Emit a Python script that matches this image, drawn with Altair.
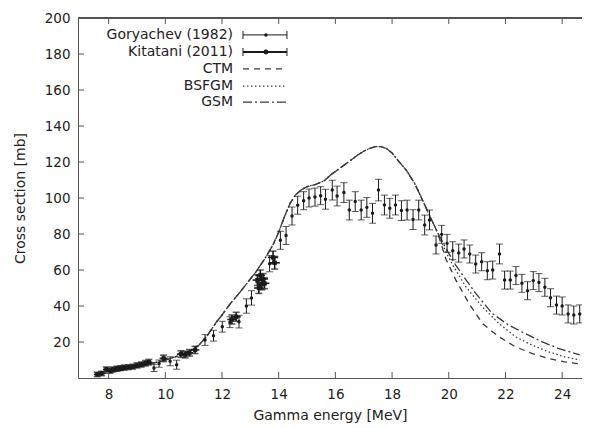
import altair as alt
import pandas as pd

# ---------------- data ----------------
# Goryachev (1982)
gor_e = [9.60, 9.78, 10.17, 10.40, 11.40, 11.70, 12.01, 12.28, 12.60, 12.86, 13.04, 13.68,
         14.06, 14.26, 14.47, 14.67, 14.88, 15.07, 15.28, 15.48, 15.65, 15.89, 16.06, 16.30,
         16.49, 16.70, 16.91, 17.11, 17.31, 17.52, 17.73, 17.92, 18.12, 18.33, 18.53, 18.74,
         18.94, 19.15, 19.32, 19.55, 19.75, 19.94, 20.14, 20.35, 20.54, 20.74, 20.95, 21.16,
         21.36, 21.55, 21.79, 21.97, 22.17, 22.37, 22.58, 22.78, 22.98, 23.18, 23.39, 23.59,
         23.80, 24.00, 24.21, 24.41, 24.62]
gor_s = [5.6, 8.0, 9.3, 7.4, 21.1, 23.5, 28.5, 31.0, 31.3, 40.0, 44.5, 63.5,
         76.5, 79.2, 90.0, 96.0, 98.5, 100.0, 100.5, 101.3, 99.3, 104.4, 101.1, 103.0,
         93.3, 98.0, 93.3, 94.8, 91.5, 104.4, 96.1, 94.3, 96.1, 93.0, 93.3, 88.0,
         93.3, 85.0, 87.8, 73.9, 79.8, 74.8, 70.7, 69.4, 71.7, 68.9, 63.3, 64.6,
         59.6, 60.0, 68.9, 54.4, 54.4, 56.9, 52.6, 48.5, 54.1, 53.0, 50.4, 44.6,
         40.5, 40.0, 35.6, 35.0, 35.6]
gor_err = [2.0, 2.0, 2.5, 2.5, 3.0, 3.0, 3.0, 3.0, 3.5, 4.0, 4.0, 4.5,
           5.0, 5.0, 5.0, 5.0, 5.0, 5.0, 5.0, 5.0, 5.5, 5.5, 5.5, 5.5,
           5.5, 5.5, 5.5, 5.5, 5.5, 6.0, 5.5, 5.5, 5.5, 5.5, 5.5, 5.5,
           5.5, 5.5, 5.5, 5.0, 5.0, 5.0, 5.0, 5.0, 5.0, 5.0, 5.0, 5.0,
           5.0, 5.0, 5.5, 5.0, 5.0, 5.0, 5.0, 5.0, 5.0, 5.0, 5.0, 5.0,
           5.0, 5.0, 5.0, 5.0, 5.0]

# Kitatani (2011)
kit_e = [7.60, 7.75, 7.92, 8.05, 8.15, 8.30, 8.42, 8.55, 8.70, 8.85, 9.00, 9.15, 9.30, 9.42,
         9.94, 10.55, 10.70, 10.85, 11.05, 12.35, 12.50, 13.25, 13.30, 13.35, 13.40, 13.45,
         13.50, 13.80, 13.86]
kit_s = [2.0, 2.5, 4.8, 4.0, 4.8, 5.2, 5.5, 5.8, 6.0, 6.3, 7.0, 7.5, 8.2, 8.8,
         10.9, 13.3, 13.0, 14.0, 15.6, 32.5, 34.0, 54.4, 50.0, 57.0, 52.0, 55.0,
         52.6, 67.0, 64.0]
kit_err = [1.2, 1.2, 1.3, 1.3, 1.3, 1.3, 1.3, 1.3, 1.3, 1.3, 1.4, 1.4, 1.5, 1.5,
           1.8, 1.8, 1.8, 1.8, 2.0, 2.5, 2.5, 3.0, 3.0, 3.0, 3.0, 3.0,
           3.0, 3.5, 3.5]
kit_de = [0.12, 0.12, 0.12, 0.12, 0.12, 0.12, 0.12, 0.12, 0.12, 0.12, 0.12, 0.12, 0.12, 0.12,
          0.14, 0.14, 0.14, 0.14, 0.15, 0.16, 0.16, 0.17, 0.17, 0.17, 0.17, 0.17,
          0.17, 0.18, 0.18]

# model curves: common part (all three coincide), then separate tails
common_e = [7.6, 8.0, 8.5, 9.0, 9.5, 10.0, 10.5, 11.0, 11.2, 11.5, 11.8, 12.0, 12.3, 12.6,
            13.0, 13.2, 13.5, 13.8, 14.0, 14.2, 14.4, 14.6, 14.8, 15.0, 15.3, 15.6, 15.85, 16.2,
            16.5, 16.8, 17.0, 17.2, 17.4, 17.6, 17.8, 18.0, 18.2, 18.5, 18.8, 19.1, 19.3, 19.6]
common_s = [2.0, 3.0, 4.5, 6.0, 8.0, 10.0, 12.5, 16.0, 18.5, 24.0, 31.0, 35.0, 41.5, 47.0,
            55.0, 59.0, 66.0, 74.0, 81.0, 89.5, 97.0, 101.8, 104.6, 106.3, 107.5, 109.5, 113.0, 117.0,
            120.5, 124.0, 126.0, 127.5, 128.5, 128.5, 127.5, 125.0, 121.0, 115.5, 108.0, 98.0, 91.0, 81.0]
ctm_e = [19.9, 20.25, 20.71, 21.18, 21.76, 22.34, 22.93, 23.51, 24.09, 24.62]
ctm_s = [66.0, 54.4, 41.5, 30.4, 23.0, 17.4, 13.7, 10.9, 9.0, 7.8]
bsf_e = [19.9, 20.13, 20.6, 21.18, 21.76, 22.34, 22.93, 23.51, 24.09, 24.62]
bsf_s = [70.0, 63.0, 50.7, 39.6, 30.4, 23.0, 18.3, 14.6, 11.8, 10.0]
gsm_e = [19.9, 20.25, 20.95, 21.53, 22.11, 22.69, 23.28, 23.86, 24.62]
gsm_s = [72.0, 62.5, 47.0, 35.9, 29.4, 24.8, 20.2, 16.5, 12.8]

x_ticks = [8, 10, 12, 14, 16, 18, 20, 22, 24]
y_ticks = [20, 40, 60, 80, 100, 120, 140, 160, 180, 200]

models = ["CTM", "BSFGM", "GSM"]
dashes = [[6, 5], [1.5, 2.5], [9, 3, 2, 3]]
legend_names = ["Goryachev (1982)", "Kitatani (2011)", "CTM", "BSFGM", "GSM"]

# ---------------- tables ----------------
gor = pd.DataFrame({"E": gor_e, "s": gor_s, "err": gor_err})
gor["lo"] = gor["s"] - gor["err"]
gor["hi"] = gor["s"] + gor["err"]

kit = pd.DataFrame({"E": kit_e, "s": kit_s, "err": kit_err, "de": kit_de})
kit["lo"] = kit["s"] - kit["err"]
kit["hi"] = kit["s"] + kit["err"]
kit["elo"] = kit["E"] - kit["de"]
kit["ehi"] = kit["E"] + kit["de"]

rows = []
for name, te, ts in [("CTM", ctm_e, ctm_s), ("BSFGM", bsf_e, bsf_s), ("GSM", gsm_e, gsm_s)]:
    for e, s in zip(common_e + te, common_s + ts):
        rows.append({"model": name, "E": e, "s": s})
curves = pd.DataFrame(rows)

# legend layout (in data units)
leg_y = [190.6, 181.1, 171.7, 162.2, 153.3]
leg = pd.DataFrame({"name": legend_names, "ly": leg_y,
                    "tx": [12.39] * 5, "x1": [12.74] * 5, "x2": [14.29] * 5, "xm": [13.55] * 5})

# ---------------- scales / axes ----------------
FONT = "DejaVu Sans"
XMIN, XMAX = 6.92, 24.7
xscale = alt.Scale(domain=[XMIN, XMAX], nice=False, zero=False)
yscale = alt.Scale(domain=[0, 200], nice=False, zero=True)
xaxis = alt.Axis(values=x_ticks, title="Gamma energy [MeV]", ticks=False, grid=False,
                 labelPadding=9, titlePadding=8, format="d")
yaxis = alt.Axis(values=y_ticks, title="Cross section [mb]", ticks=False, grid=False,
                 labelPadding=8, titlePadding=17, format="d")

def X(f):
    return alt.X(f, type="quantitative", scale=xscale, axis=xaxis)

def Y(f):
    return alt.Y(f, type="quantitative", scale=yscale, axis=yaxis)

dash_scale = alt.Scale(domain=models, range=dashes)
INK = "#1a1a1a"
LINE = "#3a3a3a"

curve_layer = alt.Chart(curves).mark_line(color=LINE, strokeWidth=1.3, clip=True).encode(
    x=X("E"), y=Y("s"),
    strokeDash=alt.StrokeDash("model:N", scale=dash_scale, legend=None),
    detail="model:N", order="E:Q")

gor_bar = alt.Chart(gor).mark_rule(color=INK, strokeWidth=1).encode(x=X("E"), y=Y("lo"), y2="hi")
gor_cap_lo = alt.Chart(gor).mark_tick(color=INK, orient="horizontal", size=7, thickness=1).encode(x=X("E"), y=Y("lo"))
gor_cap_hi = alt.Chart(gor).mark_tick(color=INK, orient="horizontal", size=7, thickness=1).encode(x=X("E"), y=Y("hi"))
gor_pt = alt.Chart(gor).mark_point(color=INK, filled=True, size=12, opacity=1).encode(x=X("E"), y=Y("s"))

kit_bar = alt.Chart(kit).mark_rule(color=INK, strokeWidth=1.6).encode(x=X("E"), y=Y("lo"), y2="hi")
kit_hbar = alt.Chart(kit).mark_rule(color=INK, strokeWidth=1.6).encode(x=X("elo"), x2="ehi", y=Y("s"))
kit_cap_lo = alt.Chart(kit).mark_tick(color=INK, orient="horizontal", size=7, thickness=1.6).encode(x=X("E"), y=Y("lo"))
kit_cap_hi = alt.Chart(kit).mark_tick(color=INK, orient="horizontal", size=7, thickness=1.6).encode(x=X("E"), y=Y("hi"))
kit_pt = alt.Chart(kit).mark_square(color=INK, size=18, opacity=1).encode(x=X("E"), y=Y("s"))

# legend
leg_text = alt.Chart(leg).mark_text(align="right", baseline="middle", font=FONT, fontSize=14,
                                    color="#222222").encode(x=X("tx"), y=Y("ly"), text="name:N")
leg_err = leg[leg["name"].isin(legend_names[:2])].copy()
leg_err["w"] = [1.0, 2.2]
leg_bar = alt.Chart(leg_err).mark_rule(color=INK).encode(
    x=X("x1"), x2="x2", y=Y("ly"), strokeWidth=alt.StrokeWidth("w:Q", scale=None))
leg_cap1 = alt.Chart(leg_err).mark_tick(color=INK, orient="vertical", size=8, thickness=1.4).encode(x=X("x1"), y=Y("ly"))
leg_cap2 = alt.Chart(leg_err).mark_tick(color=INK, orient="vertical", size=8, thickness=1.4).encode(x=X("x2"), y=Y("ly"))
leg_err["sz"] = [12, 24]
leg_pt = alt.Chart(leg_err).mark_circle(color=INK, opacity=1).encode(
    x=X("xm"), y=Y("ly"), size=alt.Size("sz:Q", scale=None, legend=None))
leg_lines = alt.Chart(leg[leg["name"].isin(models)]).mark_rule(color=LINE, strokeWidth=1.3).encode(
    x=X("x1"), x2="x2", y=Y("ly"),
    strokeDash=alt.StrokeDash("name:N", scale=dash_scale, legend=None))

# frame pieces: inward ticks and top border
FR = "#555555"
xt = pd.DataFrame({"v": x_ticks})
yt = pd.DataFrame({"v": y_ticks[:-1]})
tick_bottom = alt.Chart(xt).mark_rule(color=FR, strokeWidth=1).encode(
    x=X("v"), y=alt.value(360), y2=alt.value(354))
tick_top = alt.Chart(xt).mark_rule(color=FR, strokeWidth=1).encode(
    x=X("v"), y=alt.value(0), y2=alt.value(6))
tick_left = alt.Chart(yt).mark_rule(color=FR, strokeWidth=1).encode(
    y=Y("v"), x=alt.value(0), x2=alt.value(6))
top_border = alt.Chart(xt).mark_rule(color=FR, strokeWidth=1).encode(
    x=alt.value(0), x2=alt.value(504), y=alt.value(0))

chart = alt.layer(
    curve_layer, gor_bar, gor_cap_lo, gor_cap_hi, gor_pt,
    kit_bar, kit_hbar, kit_cap_lo, kit_cap_hi, kit_pt,
    leg_text, leg_bar, leg_cap1, leg_cap2, leg_pt, leg_lines,
    tick_bottom, tick_top, tick_left, top_border
).properties(
    width=504, height=360,
    autosize=alt.AutoSizeParams(type="none"),
    padding={"left": 70, "top": 10, "right": 0, "bottom": 50},
    background="white"
).configure_view(stroke=None).configure_axis(
    labelFont=FONT, labelFontSize=13.5, labelColor="#222222",
    titleFont=FONT, titleFontSize=14, titleFontWeight="normal", titleColor="#222222",
    domainColor=FR, domainWidth=1
)

chart.save("out.html", embed_options={"renderer": "svg", "actions": False})
